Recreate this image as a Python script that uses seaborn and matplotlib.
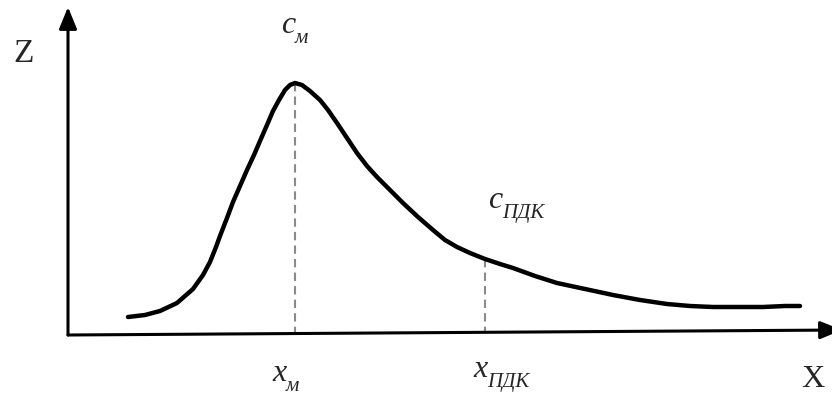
import matplotlib
matplotlib.use("Agg")
import matplotlib.pyplot as plt
import seaborn as sns

# Curve (x from the origin, z above the x axis, in pixel units)
curve_x = [60, 77, 92, 109, 125, 135, 142, 148, 152, 159, 165, 172, 179, 186, 192, 199,
           205, 211, 217, 222, 227, 234, 242, 252, 260, 269, 279, 289, 299, 309, 322, 335,
           350, 365, 377, 389, 402, 417, 432, 445, 467, 489, 517, 545, 572, 599, 622, 645,
           672, 695, 717, 732]
curve_z = [18, 20, 24, 32, 46, 60, 73, 88, 99, 117, 133, 149, 165, 180, 194, 210,
           224, 235, 245, 250, 252, 250, 244, 235, 225, 212, 197, 182, 169, 158, 145, 132,
           118, 105, 95, 88, 82, 76, 71, 67, 59, 52, 46, 40, 35, 31, 29, 28,
           28, 28, 29, 29]

# marked points: maximum and the ПДК point
mark_x = [227, 417]
mark_z = [252, 76]
top_main = ["c", "c"]
bottom_main = ["x", "x"]
mark_subs = ["м", "ПДК"]
axis_names = ["X", "Z"]

FONT = "Liberation Serif"

sns.set_theme(style="white")
plt.rcParams["font.family"] = [FONT, "DejaVu Serif"]

fig = plt.figure(figsize=(8.32, 3.96), dpi=100)
ax = fig.add_axes([0, 0, 1, 1])
ax.set_xlim(-68, 764)
ax.set_ylim(-61, 335)
ax.axis("off")

# axes with arrows
arrow = dict(arrowstyle="-|>,head_length=1.1,head_width=0.45", color="black", lw=2.2,
             shrinkA=0, shrinkB=0)
ax.annotate("", xy=(0, 328), xytext=(0, 0), arrowprops=arrow, annotation_clip=False)
ax.annotate("", xy=(774, 5), xytext=(0, 0), arrowprops=arrow, annotation_clip=False)

# dashed guides
for mx, mz in zip(mark_x, mark_z):
    ax.plot([mx, mx], [mz, 2], color="#8a8a8a", lw=1.5, ls=(0, (4, 2.5)))

sns.lineplot(x=curve_x, y=curve_z, sort=False, estimator=None, color="black",
             linewidth=3.2, ax=ax, solid_capstyle="round")


def label(x, z, main, sub):
    ax.text(x, z, main, fontsize=23, family=FONT, fontstyle="italic",
            ha="left", va="baseline")
    ax.annotate(sub, xy=(x, z), xytext=(10, -7), textcoords="offset points",
                fontsize=15, family=FONT, fontstyle="italic", ha="left", va="baseline")


# labels (positions in data units)
label(213, 302, top_main[0], mark_subs[0])
label(420, 127, top_main[1], mark_subs[1])
label(204, -46, bottom_main[0], mark_subs[0])
label(405, -42, bottom_main[1], mark_subs[1])
ax.text(733, -52, axis_names[0], fontsize=23, family=FONT, ha="left", va="baseline")
ax.text(-55, 273, axis_names[1], fontsize=24, family=FONT, ha="left", va="baseline")

fig.savefig("out.png", dpi=100)
